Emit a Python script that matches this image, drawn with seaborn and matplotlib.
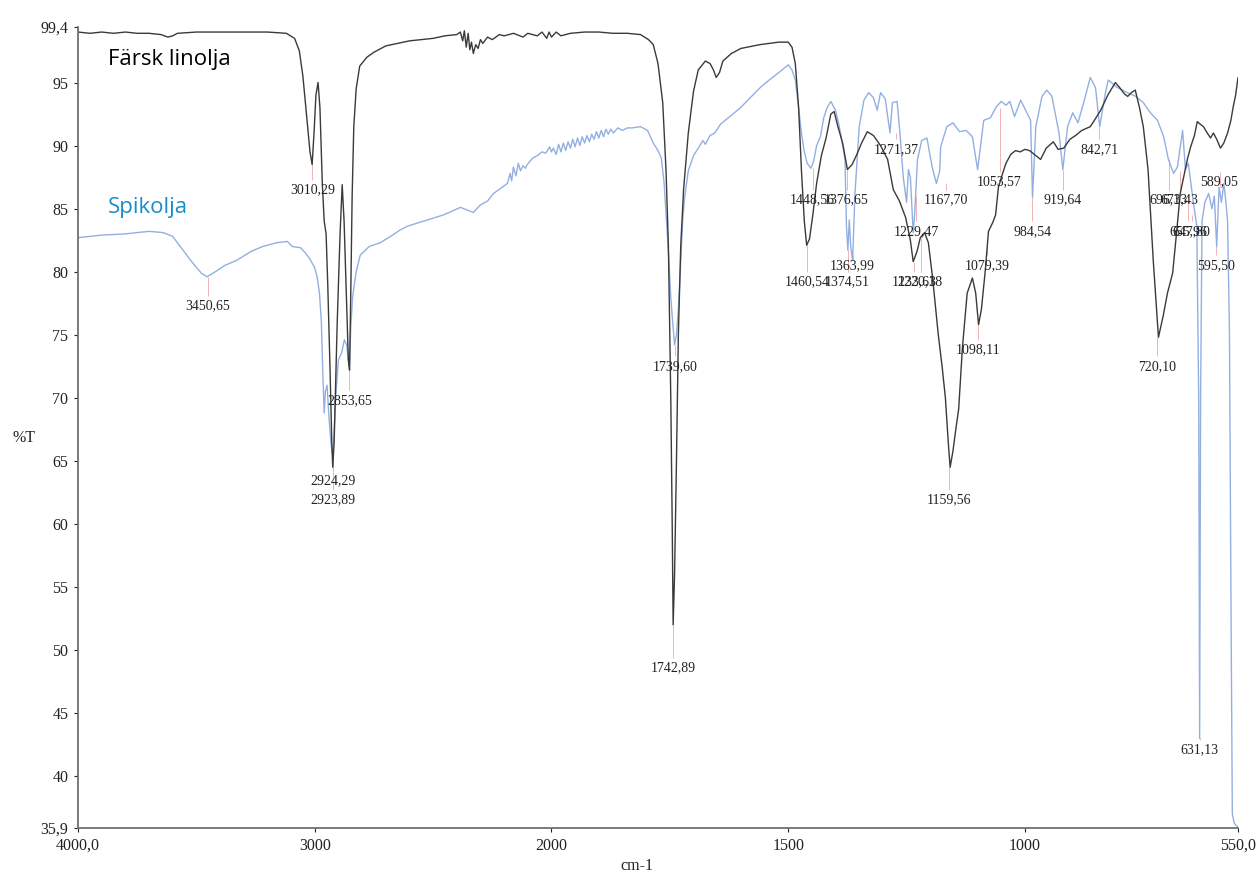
import numpy as np
import matplotlib
matplotlib.use("Agg")
import matplotlib.pyplot as plt
import seaborn as sns

# ---------------- data ----------------
black_wn = [4000, 3950, 3900, 3850, 3800, 3750, 3700, 3650, 3620, 3600, 3580, 3500, 3400, 3300, 3200, 3120,
            3085, 3065, 3050, 3035, 3020, 3011, 3003, 2995, 2986, 2978, 2968, 2960, 2952, 2945, 2935, 2928,
            2924, 2918, 2905, 2893, 2884, 2876, 2866, 2858, 2853, 2848, 2842, 2835, 2825, 2810, 2780, 2750,
            2700, 2650, 2600, 2550, 2500, 2450, 2400, 2385, 2375, 2368, 2360, 2352, 2345, 2338, 2330, 2320,
            2310, 2300, 2290, 2270, 2250, 2220, 2200, 2160, 2120, 2100, 2060, 2040, 2020, 2010, 2000, 1990,
            1980, 1960, 1930, 1900, 1870, 1840, 1812, 1795, 1785, 1775, 1765, 1758, 1753, 1748, 1745, 1743,
            1740, 1736, 1732, 1727, 1721, 1711, 1700, 1690, 1675, 1665, 1658, 1652, 1645, 1638, 1620, 1600,
            1560, 1520, 1500, 1492, 1485, 1478, 1472, 1466, 1461, 1455, 1448, 1440, 1430, 1420, 1410, 1403,
            1395, 1385, 1375, 1365, 1355, 1345, 1333, 1320, 1305, 1290, 1278, 1265, 1252, 1242, 1236, 1228,
            1221, 1212, 1204, 1195, 1183, 1175, 1168, 1162, 1158, 1152, 1146, 1140, 1132, 1122, 1111, 1104,
            1098, 1092, 1084, 1077, 1068, 1062, 1056, 1048, 1040, 1030, 1020, 1010, 1000, 990, 980, 967,
            955, 940, 930, 918, 905, 893, 880, 862, 850, 840, 825, 809, 800, 790, 783, 775,
            767, 758, 750, 740, 729, 718, 708, 699, 688, 680, 672, 657, 650, 642, 636, 630,
            623, 615, 608, 602, 595, 587, 580, 572, 565, 560, 555, 550]
black_T = [99.0, 98.9, 99.0, 98.9, 99.0, 98.9, 98.9, 98.8, 98.6, 98.7, 98.9, 99.0, 99.0, 99.0, 99.0, 98.9,
           98.5, 97.5, 95.5, 92.5, 89.5, 88.5, 91.0, 94.0, 95.0, 93.0, 87.0, 84.0, 83.0, 79.0, 72.0, 66.5,
           64.5, 66.5, 76.0, 83.0, 86.9, 84.0, 78.0, 73.0, 72.2, 78.0, 86.0, 91.5, 94.5, 96.3, 97.0, 97.4,
           97.9, 98.1, 98.3, 98.4, 98.5, 98.7, 98.8, 99.0, 98.3, 99.1, 97.8, 98.9, 97.6, 98.2, 97.3, 98.0,
           97.7, 98.4, 98.1, 98.6, 98.4, 98.8, 98.7, 98.9, 98.6, 98.9, 98.7, 99.0, 98.5, 99.0, 98.6, 99.0,
           98.7, 98.9, 99.0, 99.0, 98.9, 98.9, 98.8, 98.4, 98.0, 96.5, 93.4, 88.0, 82.0, 70.0, 60.0, 52.0,
           56.0, 65.0, 75.0, 82.0, 86.5, 91.0, 94.3, 96.0, 96.7, 96.5, 96.0, 95.4, 95.8, 96.7, 97.3, 97.7,
           98.0, 98.2, 98.2, 97.8, 96.5, 93.0, 88.0, 84.0, 82.1, 82.6, 84.5, 87.0, 89.2, 90.6, 92.5, 92.7,
           91.5, 90.2, 88.1, 88.5, 89.3, 90.2, 91.1, 90.8, 90.0, 88.9, 86.5, 85.6, 84.3, 82.5, 80.8, 81.6,
           82.7, 83.1, 82.3, 79.5, 75.0, 72.5, 70.0, 66.5, 64.5, 65.8, 67.5, 69.1, 74.0, 78.3, 79.5, 78.3,
           75.8, 77.0, 80.0, 83.2, 83.9, 84.5, 86.7, 87.7, 88.6, 89.3, 89.6, 89.5, 89.7, 89.6, 89.3, 88.9,
           89.8, 90.3, 89.7, 89.8, 90.5, 90.8, 91.2, 91.5, 92.2, 92.8, 94.0, 95.0, 94.6, 94.1, 93.9, 94.2,
           94.4, 93.0, 91.5, 88.1, 80.9, 74.8, 76.5, 78.3, 79.9, 83.0, 86.2, 88.9, 89.9, 90.8, 91.9, 91.7,
           91.5, 91.0, 90.6, 91.0, 90.5, 89.8, 90.2, 91.0, 92.0, 93.1, 94.0, 95.4]

blue_wn = [4000, 3900, 3800, 3700, 3640, 3600, 3560, 3520, 3480, 3455, 3420, 3380, 3330, 3270, 3220, 3160,
           3116, 3095, 3060, 3040, 3020, 3000, 2990, 2980, 2972, 2966, 2960, 2955, 2948, 2940, 2932, 2926,
           2920, 2912, 2900, 2886, 2875, 2865, 2858, 2853, 2848, 2840, 2825, 2808, 2770, 2723, 2680, 2640,
           2609, 2560, 2524, 2490, 2457, 2420, 2385, 2330, 2300, 2270, 2245, 2215, 2186, 2175, 2168, 2161,
           2150, 2140, 2131, 2120, 2110, 2102, 2080, 2060, 2040, 2025, 2017, 2008, 2000, 1996, 1990, 1985,
           1980, 1975, 1970, 1965, 1960, 1955, 1950, 1945, 1940, 1935, 1930, 1925, 1920, 1915, 1910, 1905,
           1900, 1895, 1890, 1885, 1880, 1875, 1869, 1860, 1850, 1840, 1830, 1812, 1797, 1785, 1775, 1768,
           1762, 1758, 1753, 1748, 1744, 1740,
           1736, 1732, 1728, 1723, 1719, 1711, 1700, 1690, 1680, 1675, 1665, 1655, 1643, 1620, 1601, 1580,
           1559, 1540, 1516, 1500, 1492, 1485, 1478, 1472, 1466, 1460, 1452, 1446, 1440, 1432, 1425, 1418,
           1410, 1400, 1392, 1385, 1380, 1377, 1374, 1371, 1368, 1364, 1359, 1350, 1340, 1330, 1320, 1312,
           1305, 1295, 1285, 1280, 1270, 1264, 1257, 1250, 1246, 1242, 1236, 1233, 1227, 1218, 1207, 1196,
           1187, 1180, 1178, 1165, 1152, 1138, 1124, 1111, 1100, 1094, 1087, 1073, 1060, 1050, 1040, 1032,
           1022, 1009, 988, 984, 977, 964, 954, 943, 928, 920, 910, 899, 888, 876, 862, 851,
           842, 830, 824, 805, 784, 766, 750, 735, 720, 707, 697, 686, 678, 667, 661, 655,
           645, 637, 633, 631, 629, 626, 620, 612, 605, 600, 595, 590, 585, 580, 576, 572,
           568, 565, 562, 558, 554, 550]
blue_T = [82.7, 82.9, 83.0, 83.2, 83.1, 82.8, 81.8, 80.8, 79.9, 79.6, 80.0, 80.5, 80.9, 81.6, 82.0, 82.3,
          82.4, 82.0, 81.9, 81.5, 81.0, 80.3, 79.6, 78.3, 76.0, 72.0, 68.8, 70.5, 71.0, 68.5, 66.5, 65.6,
          66.5, 70.0, 73.0, 73.6, 74.6, 74.2, 73.0, 72.5, 75.5, 78.0, 80.0, 81.3, 82.0, 82.3, 82.8, 83.3,
          83.6, 83.9, 84.1, 84.3, 84.5, 84.8, 85.1, 84.7, 85.3, 85.6, 86.2, 86.6, 87.0, 87.8, 87.2, 88.3,
          87.6, 88.6, 88.0, 88.4, 88.2, 88.5, 89.0, 89.2, 89.5, 89.4, 89.6, 89.9, 89.5, 89.8, 89.3, 90.1,
          89.5, 90.2, 89.6, 90.3, 89.8, 90.5, 89.9, 90.6, 90.0, 90.7, 90.2, 90.8, 90.3, 90.9, 90.5, 91.1,
          90.6, 91.2, 90.7, 91.3, 90.9, 91.3, 91.0, 91.4, 91.2, 91.4, 91.4, 91.5, 91.2, 90.2, 89.6, 89.0,
          87.0, 84.5, 81.5, 78.0, 76.0, 74.2,
          75.0, 77.0, 80.0, 84.0, 85.8, 88.0, 89.2, 89.8, 90.4, 90.1, 90.8, 91.0, 91.7, 92.4, 93.0, 93.8,
          94.6, 95.2, 95.9, 96.4, 96.0, 95.2, 93.0, 91.0, 89.5, 88.6, 88.2, 88.8, 90.0, 90.7, 92.2, 93.0,
          93.5, 92.8, 91.5, 90.0, 88.9, 83.6, 81.7, 84.1, 82.0, 80.9, 86.2, 91.5, 93.6, 94.2, 93.8, 92.8,
          94.2, 93.7, 91.0, 93.4, 93.5, 91.0, 87.5, 85.5, 88.1, 87.5, 83.1, 84.5, 88.9, 90.4, 90.6, 88.3,
          87.0, 88.0, 89.9, 91.5, 91.8, 91.1, 91.2, 90.7, 88.1, 89.9, 92.0, 92.2, 93.1, 93.5, 93.2, 93.5,
          92.3, 93.6, 92.0, 85.9, 91.5, 93.9, 94.4, 93.9, 91.0, 88.1, 91.5, 92.6, 91.8, 93.4, 95.4, 94.6,
          91.5, 94.2, 95.2, 94.6, 94.2, 93.9, 93.4, 92.6, 92.0, 90.7, 88.9, 87.8, 88.3, 91.2, 88.1, 88.6,
          85.7, 83.6, 70.0, 43.0, 70.0, 84.0, 85.5, 86.2, 85.0, 86.0, 82.0, 86.7, 85.5, 87.0, 85.7, 84.0,
          75.0, 55.0, 37.0, 36.3, 36.1, 36.0]

# peak annotations: text, peak wavenumber, peak %T, label %T
peak_text = ["3450,65", "3010,29", "2853,65", "2924,29", "2923,89", "1739,60", "1742,89",
             "1448,56", "1376,65", "1460,54", "1374,51", "1363,99", "1271,37", "1229,47",
             "1233,63", "1220,18", "1167,70", "1159,56", "1098,11", "1079,39", "1053,57",
             "984,54", "919,64", "842,71", "720,10", "696,13", "673,43", "589,05",
             "655,96", "647,80", "595,50", "631,13"]
peak_wn = [3450.65, 3010.29, 2853.65, 2924.29, 2923.89, 1739.60, 1742.89,
           1448.56, 1376.65, 1460.54, 1374.51, 1363.99, 1271.37, 1229.47,
           1233.63, 1220.18, 1167.70, 1159.56, 1098.11, 1079.39, 1053.57,
           984.54, 919.64, 842.71, 720.10, 696.13, 673.43, 589.05,
           655.96, 647.80, 595.50, 631.13]
peak_T = [79.6, 88.5, 72.2, 64.5, 65.6, 74.2, 52.0,
          88.2, 88.1, 82.1, 81.7, 80.9, 91.0, 86.0,
          80.8, 82.7, 87.0, 64.5, 75.8, 82.5, 93.0,
          85.9, 88.1, 91.5, 74.8, 88.9, 88.0, 86.7,
          85.7, 84.5, 82.0, 43.0]
label_T = [77.3, 86.5, 69.8, 63.4, 61.9, 72.5, 48.6,
           85.7, 85.7, 79.2, 79.2, 80.5, 89.7, 83.2,
           79.2, 79.2, 85.7, 61.9, 73.8, 80.5, 87.1,
           83.2, 85.7, 89.7, 72.5, 85.7, 85.7, 87.1,
           83.2, 83.2, 80.5, 42.1]

xtick_vals = [4000, 3000, 2000, 1500, 1000, 550]
xtick_labels = ["4000,0", "3000", "2000", "1500", "1000", "550,0"]
ytick_vals = [35.9, 40, 45, 50, 55, 60, 65, 70, 75, 80, 85, 90, 95, 99.4]
ytick_labels = ["35,9", "40", "45", "50", "55", "60", "65", "70", "75", "80", "85", "90", "95", "99,4"]

# ---------------- style ----------------
sns.set_theme(style="white")
plt.rcParams["font.family"] = ["Liberation Serif", "DejaVu Serif"]

fig = plt.figure(figsize=(12.58, 8.75), dpi=100)
ax = fig.add_axes([78 / 1258, 1 - 828 / 875, 1160 / 1258, 801 / 875])


def fwd(w):
    w = np.asarray(w, dtype=float)
    return np.where(w > 2000, 2000 + (w - 2000) / 2.0, w)


def inv(t):
    t = np.asarray(t, dtype=float)
    return np.where(t > 2000, 2000 + (t - 2000) * 2.0, t)


ax.set_xscale("function", functions=(fwd, inv))

black_col = "#3a3a3a"
blue_col = "#93afe2"

sns.lineplot(x=blue_wn, y=blue_T, ax=ax, estimator=None, sort=False, color=blue_col, lw=1.0)
sns.lineplot(x=black_wn, y=black_T, ax=ax, estimator=None, sort=False, color=black_col, lw=1.0)

# peak markers and labels
for t, w, pT, lT in zip(peak_text, peak_wn, peak_T, label_T):
    ax.vlines(w, lT + 0.8, pT, color="#f0b4b4", lw=0.7, zorder=1)
    ax.text(w, lT, t, ha="center", va="center", fontsize=10, color="#222222", zorder=5)

ax.set_xlim(4000, 550)
ax.set_ylim(35.9, 99.4)
ax.set_xticks(xtick_vals)
ax.set_xticklabels(xtick_labels)
ax.set_yticks(ytick_vals)
ax.set_yticklabels(ytick_labels)
ax.tick_params(axis="both", labelsize=11.5, colors="#222222", length=3, width=0.8, direction="out",
               left=True, bottom=True, pad=4)
ax.xaxis.set_minor_locator(matplotlib.ticker.NullLocator())

for s in ["top", "right"]:
    ax.spines[s].set_visible(False)
for s in ["left", "bottom"]:
    ax.spines[s].set_color("#707070")
    ax.spines[s].set_linewidth(1.3)

ax.set_xlabel("")
ax.set_ylabel("")
fig.text(637 / 1258, 1 - 866 / 875, "cm-1", ha="center", va="center", fontsize=11.5, color="#222222")
fig.text(24 / 1258, 1 - 438 / 875, "%T", ha="center", va="center", fontsize=11.5, color="#222222")

ax.text(0.026, 0.959, "Färsk linolja", transform=ax.transAxes, ha="left", va="center",
        fontsize=16, color="black", family=["Open Sans", "DejaVu Sans"])
ax.text(0.026, 0.775, "Spikolja", transform=ax.transAxes, ha="left", va="center",
        fontsize=16, color="#1a8cc8", family=["Open Sans", "DejaVu Sans"])

fig.savefig("out.png", dpi=100)
